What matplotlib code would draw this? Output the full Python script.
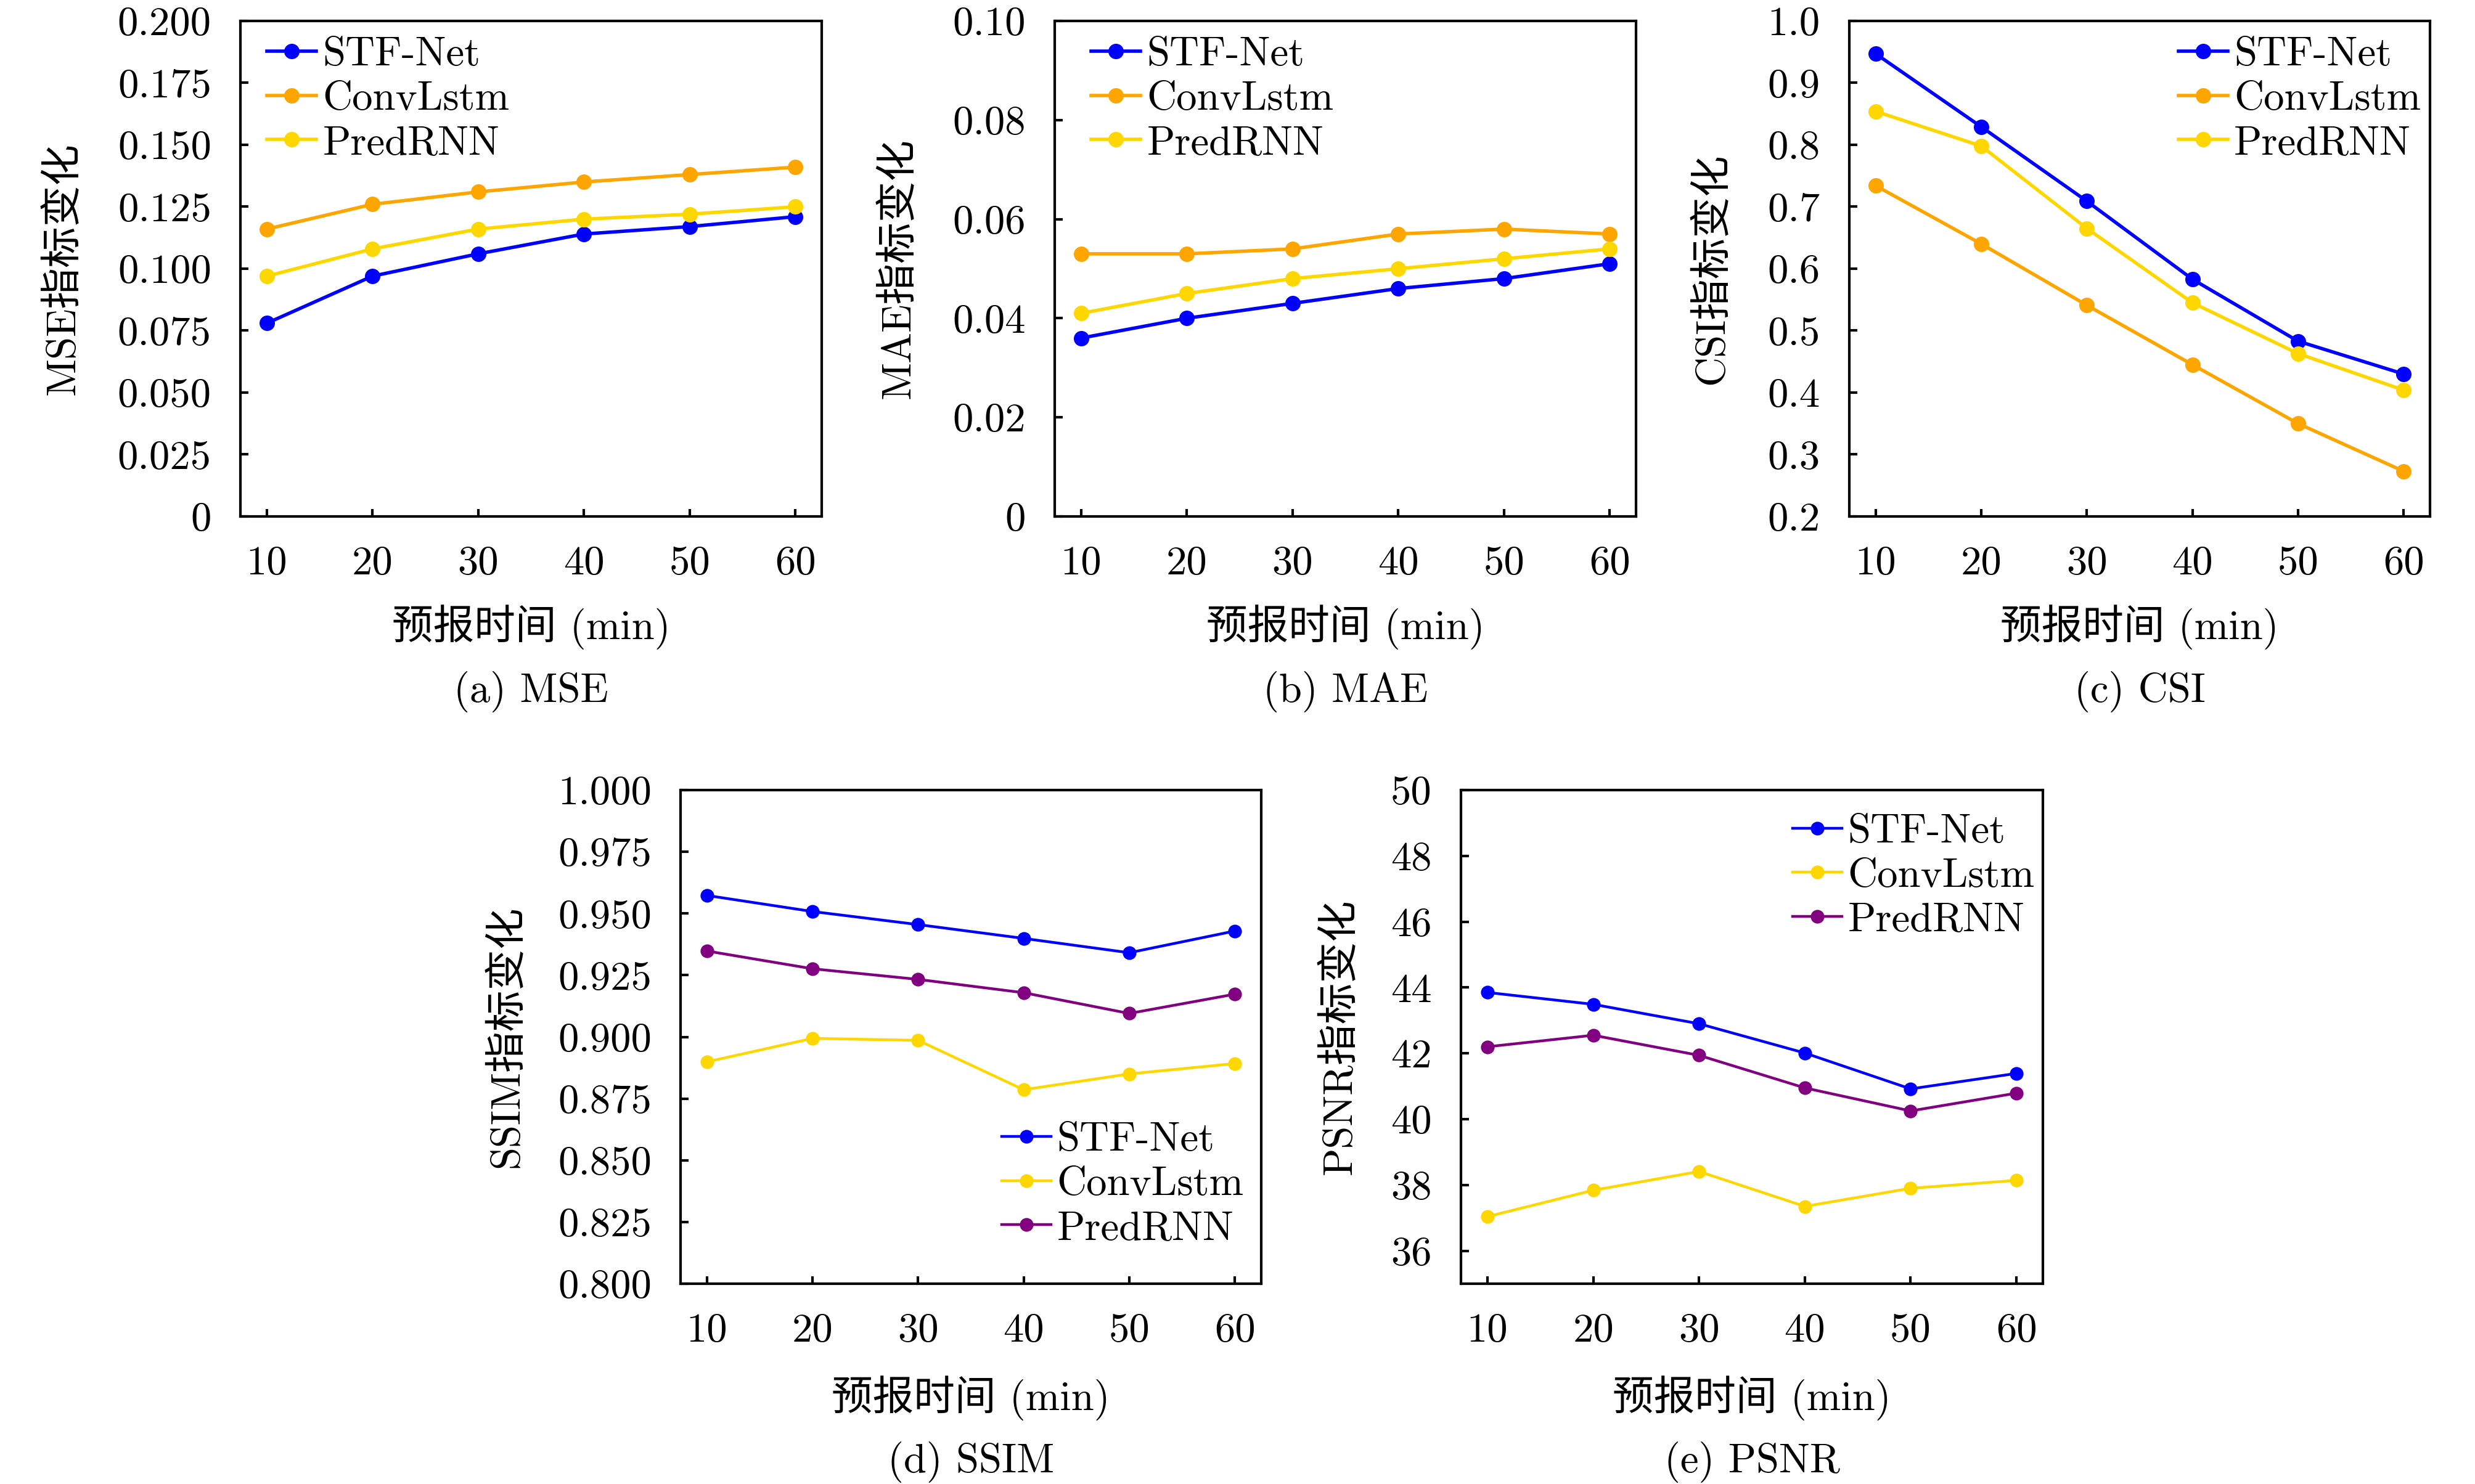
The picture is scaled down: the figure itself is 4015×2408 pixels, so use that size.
#!/usr/bin/env python3
"""
Forecast metrics vs lead time: MSE / MAE / CSI (top row), SSIM / PSNR (bottom row)
"""
import matplotlib
matplotlib.use("Agg")
import matplotlib.pyplot as plt
from matplotlib.ticker import FixedLocator, FuncFormatter

plt.rcParams["font.family"] = ["cmr10", "Noto Sans CJK SC", "DejaVu Sans"]
plt.rcParams["font.size"] = 24
plt.rcParams["axes.unicode_minus"] = False

# ---------------------------------------------------------------------------
# Data
# ---------------------------------------------------------------------------
TIMES = [10, 20, 30, 40, 50, 60]
LABELS = ["STF-Net", "ConvLstm", "PredRNN"]

MSE_STF = [0.078, 0.097, 0.106, 0.114, 0.117, 0.121]
MSE_CONV = [0.116, 0.126, 0.131, 0.135, 0.138, 0.141]
MSE_PRED = [0.097, 0.108, 0.116, 0.120, 0.122, 0.125]

MAE_STF = [0.036, 0.040, 0.043, 0.046, 0.048, 0.051]
MAE_CONV = [0.053, 0.053, 0.054, 0.057, 0.058, 0.057]
MAE_PRED = [0.041, 0.045, 0.048, 0.050, 0.052, 0.054]

CSI_STF = [0.947, 0.829, 0.709, 0.583, 0.483, 0.430]
CSI_CONV = [0.734, 0.640, 0.541, 0.445, 0.350, 0.273]
CSI_PRED = [0.854, 0.798, 0.665, 0.545, 0.463, 0.404]

SSIM_STF = [0.9573, 0.9508, 0.9455, 0.9399, 0.9341, 0.9429]
SSIM_CONV = [0.8899, 0.8994, 0.8986, 0.8786, 0.8850, 0.8892]
SSIM_PRED = [0.9348, 0.9276, 0.9233, 0.9179, 0.9095, 0.9173]

PSNR_STF = [43.85, 43.49, 42.90, 42.01, 40.92, 41.39]
PSNR_CONV = [37.04, 37.84, 38.41, 37.35, 37.90, 38.14]
PSNR_PRED = [42.20, 42.55, 41.94, 40.95, 40.25, 40.79]

BLUE = "#0000ff"
ORANGE = "#ffa500"
GOLD = "#ffd700"
PURPLE = "#800080"

XLABEL = "预报时间 (min)"

# ---------------------------------------------------------------------------
# Layout (pixel boxes on a 4016 x 2408 canvas)
# ---------------------------------------------------------------------------
W, H = 4016, 2408
DPI = 200


def box(l, t, r, b):
    return [l / W, 1 - b / H, (r - l) / W, (b - t) / H]


def fmt_factory(nd):
    def f(v, pos):
        if abs(v) < 1e-12:
            return "0"
        return f"{v:.{nd}f}"
    return FuncFormatter(f)


def frange(a, b, step):
    out, v = [], a
    while v <= b + step * 1e-6:
        out.append(round(v, 6))
        v += step
    return out


PANELS = [
    dict(px=(390, 34, 1333, 838), ylabel="MSE指标变化", cap="(a) MSE",
         series=[MSE_STF, MSE_CONV, MSE_PRED], colors=[BLUE, ORANGE, GOLD],
         ylim=(0, 0.2), ticks=frange(0, 0.2, 0.025), nd=3, ylc=-0.271,
         leg=dict(loc="upper left", bbox_to_anchor=(0.046, 0.968)), ms=8, lw=2.0),
    dict(px=(1711, 34, 2654, 838), ylabel="MAE指标变化", cap="(b) MAE",
         series=[MAE_STF, MAE_CONV, MAE_PRED], colors=[BLUE, ORANGE, GOLD],
         ylim=(0, 0.1), ticks=frange(0, 0.1, 0.02), nd=2, ylc=-0.235,
         leg=dict(loc="upper left", bbox_to_anchor=(0.063, 0.968)), ms=8, lw=2.0),
    dict(px=(3000, 34, 3942, 838), ylabel="CSI指标变化", cap="(c) CSI",
         series=[CSI_STF, CSI_CONV, CSI_PRED], colors=[BLUE, ORANGE, GOLD],
         ylim=(0.2, 1.0), ticks=frange(0.2, 1.0, 0.1), nd=1, ylc=-0.203,
         leg=dict(loc="upper right", bbox_to_anchor=(0.984, 0.968)), ms=8, lw=2.0),
    dict(px=(1104, 1282, 2046, 2083), ylabel="SSIM指标变化", cap="(d) SSIM",
         series=[SSIM_STF, SSIM_CONV, SSIM_PRED], colors=[BLUE, GOLD, PURPLE],
         ylim=(0.8, 1.0), ticks=frange(0.8, 1.0, 0.025), nd=3, ylc=-0.266,
         leg=dict(loc="lower right", bbox_to_anchor=(0.970, 0.074)), ms=7, lw=1.6),
    dict(px=(2370, 1282, 3314, 2083), ylabel="PSNR指标变化", cap="(e) PSNR",
         series=[PSNR_STF, PSNR_CONV, PSNR_PRED], colors=[BLUE, GOLD, PURPLE],
         ylim=(35, 50), ticks=frange(36, 50, 2), nd=0, ylc=-0.175,
         leg=dict(loc="upper right", bbox_to_anchor=(0.986, 0.952)), ms=7, lw=1.6),
]

# ---------------------------------------------------------------------------
# Draw
# ---------------------------------------------------------------------------
fig = plt.figure(figsize=(W / DPI, H / DPI), dpi=DPI)

for p in PANELS:
    l, t, r, b = p["px"]
    ax = fig.add_axes(box(l, t, r, b))
    for vals, col, lab in zip(p["series"], p["colors"], LABELS):
        ax.plot(TIMES, vals, color=col, marker="o", markersize=p["ms"],
                linewidth=p["lw"], label=lab)

    ax.set_xlim(7.5, 62.5)
    ax.set_ylim(*p["ylim"])
    ax.xaxis.set_major_locator(FixedLocator(TIMES))
    ax.yaxis.set_major_locator(FixedLocator(p["ticks"]))
    ax.yaxis.set_major_formatter(fmt_factory(p["nd"]))
    ax.tick_params(axis="both", direction="in", length=4.5, width=1.5,
                   top=False, right=False, labelsize=24)
    ax.tick_params(axis="y", pad=17)
    ax.tick_params(axis="x", pad=17)
    for sp in ax.spines.values():
        sp.set_linewidth(1.5)

    ax.set_ylabel(p["ylabel"], fontsize=24)
    ax.yaxis.set_label_coords(p["ylc"], 0.5)

    ax.legend(frameon=False, fontsize=24, handlelength=1.2, handletextpad=0.15,
              labelspacing=0.18, borderpad=0, borderaxespad=0, **p["leg"])

    cx = (l + r) / 2 / W
    row_off = 0 if b < 1000 else 6
    fig.text(cx, 1 - (b + 180 + row_off) / H, XLABEL, ha="center", va="center", fontsize=24)
    fig.text(cx, 1 - (b + 284 + row_off) / H, p["cap"], ha="center", va="center", fontsize=24)

fig.savefig("out.png", dpi=DPI)
